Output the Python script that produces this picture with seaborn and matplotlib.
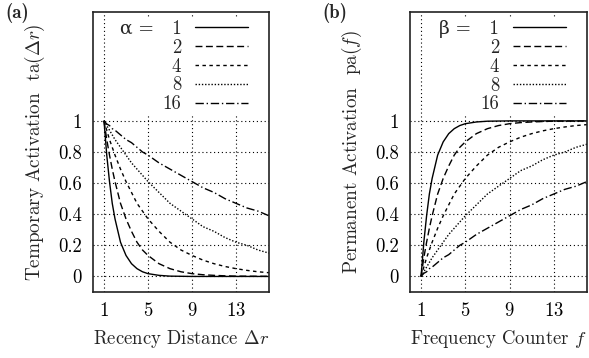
import matplotlib
matplotlib.use("Agg")
import matplotlib.pyplot as plt
import seaborn as sns
import pandas as pd

# ---- data ----
x_vals = [1, 1.25, 1.5, 1.75, 2, 2.5, 3, 3.5, 4, 4.5, 5, 6, 7, 8, 9, 10, 11, 12, 13, 14, 15, 16]

ta_alpha1 = [1, 0.78, 0.61, 0.47, 0.37, 0.22, 0.135, 0.082, 0.05, 0.03, 0.018, 0.007, 0.002, 0.001, 0, 0, 0, 0, 0, 0, 0, 0]
ta_alpha2 = [1, 0.88, 0.78, 0.69, 0.61, 0.47, 0.37, 0.29, 0.22, 0.17, 0.135, 0.082, 0.05, 0.03, 0.018, 0.011, 0.007, 0.004, 0.002, 0.0015, 0.001, 0.0006]
ta_alpha4 = [1, 0.94, 0.88, 0.83, 0.78, 0.69, 0.61, 0.54, 0.47, 0.42, 0.37, 0.29, 0.22, 0.17, 0.135, 0.105, 0.082, 0.064, 0.05, 0.039, 0.03, 0.024]
ta_alpha8 = [1, 0.97, 0.94, 0.91, 0.88, 0.83, 0.78, 0.73, 0.69, 0.65, 0.61, 0.54, 0.47, 0.42, 0.37, 0.32, 0.29, 0.25, 0.22, 0.20, 0.17, 0.15]
ta_alpha16 = [1, 0.98, 0.97, 0.95, 0.94, 0.91, 0.88, 0.86, 0.83, 0.80, 0.78, 0.73, 0.69, 0.65, 0.61, 0.57, 0.54, 0.50, 0.47, 0.44, 0.42, 0.39]

pa_beta1 = [0, 0.22, 0.39, 0.53, 0.63, 0.78, 0.865, 0.918, 0.95, 0.97, 0.982, 0.993, 0.998, 0.999, 1, 1, 1, 1, 1, 1, 1, 1]
pa_beta2 = [0, 0.12, 0.22, 0.31, 0.39, 0.53, 0.63, 0.71, 0.78, 0.83, 0.865, 0.918, 0.95, 0.97, 0.982, 0.989, 0.993, 0.996, 0.998, 0.9985, 0.999, 0.9994]
pa_beta4 = [0, 0.06, 0.12, 0.17, 0.22, 0.31, 0.39, 0.46, 0.53, 0.58, 0.63, 0.71, 0.78, 0.83, 0.865, 0.895, 0.918, 0.936, 0.95, 0.961, 0.97, 0.976]
pa_beta8 = [0, 0.03, 0.06, 0.09, 0.12, 0.17, 0.22, 0.27, 0.31, 0.35, 0.39, 0.46, 0.53, 0.58, 0.63, 0.68, 0.71, 0.75, 0.78, 0.80, 0.83, 0.85]
pa_beta16 = [0, 0.02, 0.03, 0.05, 0.06, 0.09, 0.12, 0.14, 0.17, 0.20, 0.22, 0.27, 0.31, 0.35, 0.39, 0.43, 0.46, 0.50, 0.53, 0.56, 0.58, 0.61]

param_labels = ["1", "2", "4", "8", "16"]
x_ticks = [1, 5, 9, 13]
y_ticks = [0, 0.2, 0.4, 0.6, 0.8, 1]
y_tick_labels = ["0", "0.2", "0.4", "0.6", "0.8", "1"]

# ---- styling ----
sns.set_theme(style="white")
plt.rcParams.update({
    "font.family": ["cmr10", "DejaVu Serif"],
    "mathtext.fontset": "cm",
    "axes.formatter.use_mathtext": True,
    "axes.unicode_minus": False,
    "font.size": 13.5,
    "axes.edgecolor": "black",
    "axes.linewidth": 1.1,
})

line_styles = ["-", (0, (5, 2.5)), (0, (2.5, 2.5)), (0, (1, 1.3)), (0, (6, 2, 1, 2))]

fig = plt.figure(figsize=(5.89, 3.58), dpi=100)
ax_a = fig.add_axes([93 / 589, 1 - 292 / 358, 176 / 589, 280 / 358])
ax_b = fig.add_axes([410 / 589, 1 - 292 / 358, 177 / 589, 280 / 358])


def draw_panel(ax, series, symbol, ylabel, xlabel):
    for vals, lab, ls in zip(series, param_labels, line_styles):
        df = pd.DataFrame({"x": x_vals, "y": vals})
        label = (symbol + " =   " + lab) if lab == "1" else lab
        sns.lineplot(data=df, x="x", y="y", ax=ax, color="black", linewidth=1.0,
                     linestyle=ls, label=label, legend=False)
    ax.set_xlim(0, 16)
    ax.set_ylim(-0.1, 1.7)
    ax.set_xticks(x_ticks)
    ax.set_xticks(range(0, 17), minor=True)
    ax.set_yticks(y_ticks)
    ax.set_yticklabels(y_tick_labels)
    ax.set_yticks([i / 10 for i in range(0, 11)], minor=True)
    ax.tick_params(axis="both", which="major", direction="in", length=4.5, width=0.8,
                   colors="black", labelsize=13.5)
    ax.tick_params(axis="both", which="minor", direction="in", length=2.5, width=0.8,
                   colors="black")
    ax.tick_params(axis="x", which="major", pad=7)
    ax.tick_params(axis="y", which="major", pad=8)
    ax.grid(True, which="major", color="black", linestyle=(0, (1, 2.5)), linewidth=0.8)
    ax.set_axisbelow(True)
    for sp in ax.spines.values():
        sp.set_color("#222222")
        sp.set_linewidth(1.2)
    ax.set_xlabel(xlabel, fontsize=13.5, labelpad=6)
    ax.set_ylabel(ylabel, fontsize=13.8, labelpad=8)
    handles, labels = ax.get_legend_handles_labels()
    leg = ax.legend(handles, labels, loc="upper right", bbox_to_anchor=(0.885, 0.975),
                    markerfirst=False, frameon=True, fancybox=False, framealpha=1,
                    facecolor="white", edgecolor="none", borderpad=0.05,
                    borderaxespad=0, handlelength=2.8, handletextpad=0.75,
                    labelspacing=0.05, fontsize=13.5)
    leg.set_zorder(5)


draw_panel(ax_a, [ta_alpha1, ta_alpha2, ta_alpha4, ta_alpha8, ta_alpha16], "α",
           r"Temporary Activation  ta($\Delta r$)", r"Recency Distance $\Delta r$")
draw_panel(ax_b, [pa_beta1, pa_beta2, pa_beta4, pa_beta8, pa_beta16], "β",
           r"Permanent Activation  pa($f$)", r"Frequency Counter $f$")

fig.text(5 / 589, 1 - 3 / 358, "(a)", fontfamily="cmb10", fontsize=13.5, va="top", ha="left")
fig.text(322 / 589, 1 - 3 / 358, "(b)", fontfamily="cmb10", fontsize=13.5, va="top", ha="left")

fig.savefig("out.png", dpi=100)
